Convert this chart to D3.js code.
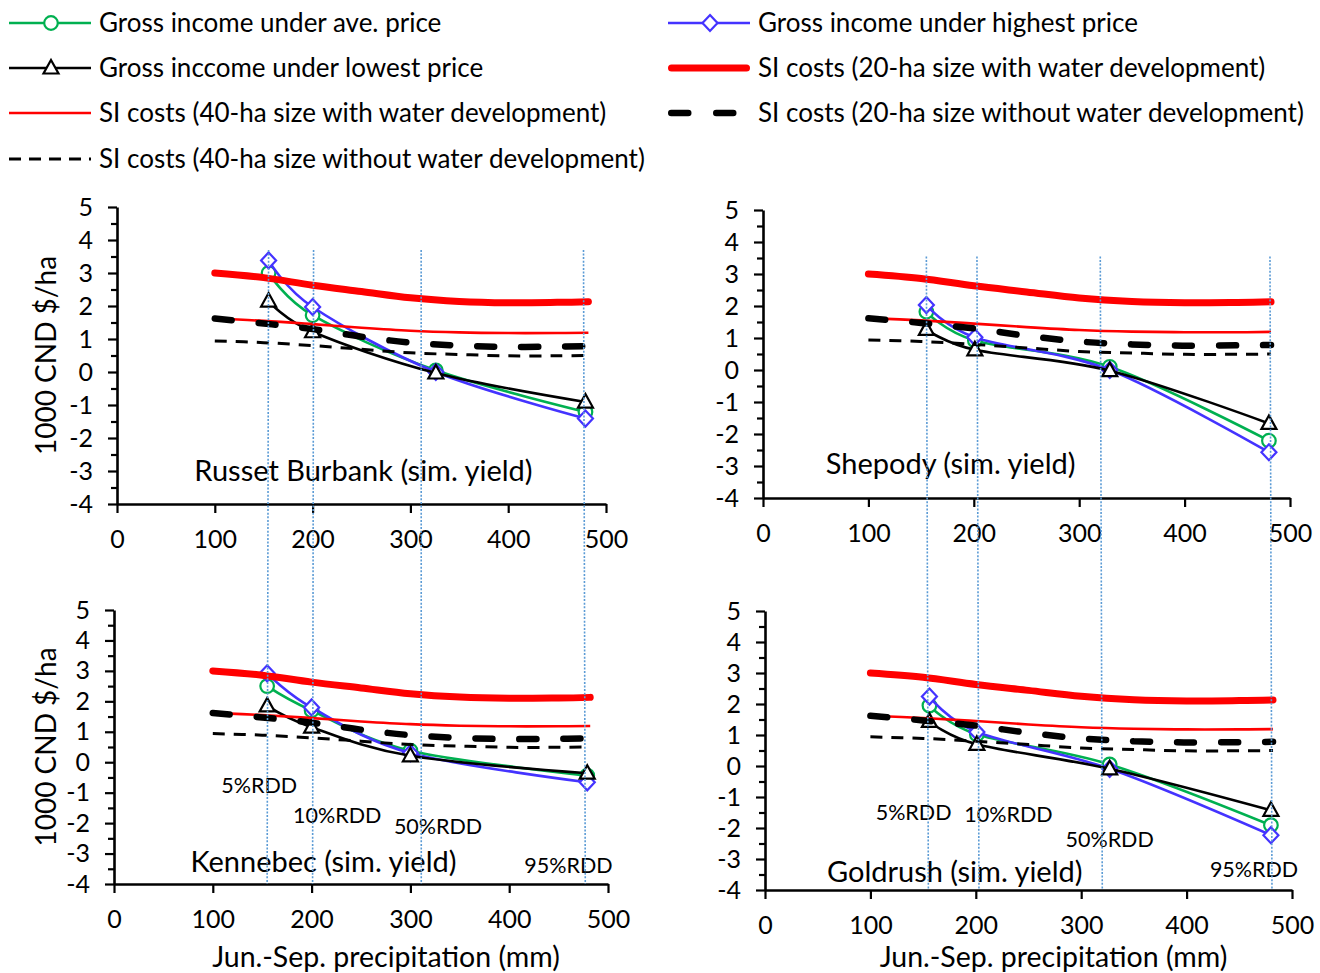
<!DOCTYPE html>
<html><head><meta charset="utf-8">
<script src="https://cdn.jsdelivr.net/npm/d3@7"></script>
<style>body{margin:0;background:#fff}svg{display:block}text{font-family:Lato,"Open Sans",sans-serif;fill:#000}</style>
</head><body><svg id="c" width="1320" height="973"></svg>
<script>
// ---------- data ----------
const xTicks = [0, 100, 200, 300, 400, 500];
const yTicks = [-4, -3, -2, -1, 0, 1, 2, 3, 4, 5];
const yMinor = [-3.5, -2.5, -1.5, -0.5, 0.5, 1.5, 2.5, 3.5, 4.5];

// SI costs (same in each panel)
const costX = [100, 150, 200, 250, 300, 350, 400, 450, 482];
const cost20With    = [3.00, 2.86, 2.63, 2.44, 2.25, 2.14, 2.10, 2.11, 2.13];
const cost40With    = [1.62, 1.55, 1.45, 1.34, 1.25, 1.20, 1.18, 1.18, 1.19];
const cost20Without = [1.62, 1.47, 1.30, 1.07, 0.89, 0.80, 0.76, 0.77, 0.78];
const cost40Without = [0.94, 0.89, 0.80, 0.69, 0.58, 0.53, 0.49, 0.49, 0.50];

// Gross income per variety
const russetX    = [155, 200, 326, 479];
const russetAve  = [3.00, 1.72, 0.05, -1.21];
const russetHigh = [3.38, 1.97, 0.00, -1.41];
const russetLow  = [2.15, 1.22, -0.03, -0.91];

const shepodyX    = [155, 201, 329, 480];
const shepodyAve  = [1.82, 0.92, 0.10, -2.21];
const shepodyHigh = [2.03, 1.02, 0.00, -2.57];
const shepodyLow  = [1.27, 0.63, -0.02, -1.67];

const kennebecX    = [155, 200, 300, 479];
const kennebecAve  = [2.50, 1.70, 0.38, -0.44];
const kennebecHigh = [2.92, 1.80, 0.30, -0.66];
const kennebecLow  = [1.85, 1.15, 0.21, -0.36];

const goldrushX    = [156, 201, 327, 480];
const goldrushAve  = [1.95, 1.02, 0.05, -1.91];
const goldrushHigh = [2.24, 1.10, -0.09, -2.23];
const goldrushLow  = [1.44, 0.70, -0.09, -1.43];

// RDD reference precipitation lines
const rddLeft  = [155, 201, 311, 477];
const rddRight = [155, 203, 320, 481];
const rddLabels = ["5%RDD", "10%RDD", "50%RDD", "95%RDD"];

const titles = ["Russet Burbank (sim. yield)", "Shepody (sim. yield)", "Kennebec (sim. yield)", "Goldrush (sim. yield)"];
const yLabel = "1000 CND $/ha";
const xLabel = "Jun.-Sep. precipitation (mm)";

// ---------- styles ----------
const GREEN = "#00B050", BLUE = "#4433FF", RED = "#FF0000", DOT = "#5B9BD5";

const series = [
  {name: "Gross income under ave. price", color: GREEN, w: 2.6, marker: "circle"},
  {name: "Gross income under highest price", color: BLUE, w: 2.6, marker: "diamond"},
  {name: "Gross inccome under lowest price", color: "#000", w: 2.6, marker: "triangle"},
  {name: "SI costs (20-ha size with water development)", color: RED, w: 7, dash: null, cap: "round"},
  {name: "SI costs (40-ha size with water development)", color: RED, w: 2.6, dash: null},
  {name: "SI costs (20-ha size without water development)", color: "#000", w: 6.5, dash: "17,27", cap: "round"},
  {name: "SI costs (40-ha size without water development)", color: "#000", w: 3, dash: "12,9"}
];

const svg = d3.select("#c");

const panels = [
  {x: [117, 606], y: [207, 504], X: russetX, ave: russetAve, high: russetHigh, low: russetLow, title: titles[0], tPos: [252, -3.3], yl: true},
  {x: [763, 1290], y: [210, 498], X: shepodyX, ave: shepodyAve, high: shepodyHigh, low: shepodyLow, title: titles[1], tPos: [178, -3.25]},
  {x: [114, 608], y: [610, 884], X: kennebecX, ave: kennebecAve, high: kennebecHigh, low: kennebecLow, title: titles[2], tPos: [212, -3.62], yl: true, xl: true,
    rdd: [[147, -1.0], [226, -2.0], [328, -2.37], [460, -3.64]]},
  {x: [765, 1292], y: [611, 890], X: goldrushX, ave: goldrushAve, high: goldrushHigh, low: goldrushLow, title: titles[3], tPos: [180, -3.74], xl: true,
    rdd: [[141, -1.73], [231, -1.8], [327, -2.62], [464, -3.58]]}
];

function markerPath(type) {
  if (type === "circle") return d3.symbol().type(d3.symbolCircle).size(Math.PI * 6.8 * 6.8)();
  if (type === "diamond") return "M0,-8L7.5,0L0,8L-7.5,0Z";
  return "M0,-8L7.5,5.5L-7.5,5.5Z";
}

panels.forEach(p => {
  p.sx = d3.scaleLinear().domain([0, 500]).range(p.x);
  p.sy = d3.scaleLinear().domain([5, -4]).range(p.y);
});

function drawSeries(g, p, xs, ys, s) {
  const line = d3.line().x(d => p.sx(d[0])).y(d => p.sy(d[1])).curve(d3.curveCardinal.tension(0));
  const pts = xs.map((x, i) => [x, ys[i]]);
  g.append("path").attr("d", line(pts)).attr("fill", "none").attr("stroke", s.color)
    .attr("stroke-width", s.w).attr("stroke-dasharray", s.dash || null)
    .attr("stroke-linecap", s.cap || "butt").attr("stroke-linejoin", "round");
  if (s.marker) {
    g.selectAll(null).data(pts).enter().append("path")
      .attr("d", markerPath(s.marker))
      .attr("transform", d => `translate(${p.sx(d[0])},${p.sy(d[1])})`)
      .attr("fill", "#fff").attr("stroke", s.color).attr("stroke-width", 2.2);
  }
}

const fmt = d => String(d);

panels.forEach((p, pi) => {
  const g = svg.append("g");
  // axes
  const yAxis = d3.axisLeft(p.sy).tickValues(yTicks).tickSize(9).tickSizeOuter(0).tickPadding(15).tickFormat(fmt);
  const ya = g.append("g").attr("transform", `translate(${p.x[0]},0)`).call(yAxis);
  ya.selectAll(".tick line").attr("stroke-width", 2.2);
  ya.select(".domain").attr("stroke-width", 2.6);
  ya.selectAll("text").attr("font-size", 25).attr("font-family", "Lato");
  g.append("g").attr("transform", `translate(${p.x[0]},0)`)
    .call(d3.axisLeft(p.sy).tickValues(yMinor).tickSize(6).tickFormat(""))
    .call(a => a.select(".domain").remove())
    .selectAll(".tick line").attr("stroke-width", 2.2);

  const xAxis = d3.axisBottom(p.sx).tickValues(xTicks).tickSize(9).tickSizeOuter(0).tickPadding(17).tickFormat(fmt);
  const xa = g.append("g").attr("transform", `translate(0,${p.y[1]})`).call(xAxis);
  xa.selectAll(".tick line").attr("stroke-width", 2.2);
  xa.select(".domain").attr("stroke-width", 2.6);
  xa.selectAll("text").attr("font-size", 25).attr("font-family", "Lato");

  // income series
  drawSeries(g, p, p.X, p.ave, series[0]);
  drawSeries(g, p, p.X, p.high, series[1]);
  drawSeries(g, p, p.X, p.low, series[2]);
  // costs
  drawSeries(g, p, costX, cost40Without, series[6]);
  drawSeries(g, p, costX, cost40With, series[4]);
  drawSeries(g, p, costX, cost20Without, series[5]);
  drawSeries(g, p, costX, cost20With, series[3]);

  g.append("text").attr("x", p.sx(p.tPos[0])).attr("y", p.sy(p.tPos[1]))
    .attr("text-anchor", "middle").attr("font-size", 29).text(p.title);

  if (p.yl) {
    const cy = (p.y[0] + p.y[1]) / 2;
    g.append("text").attr("transform", `translate(56,${cy}) rotate(-90)`)
      .attr("text-anchor", "middle").attr("font-size", 28).text(yLabel);
  }
  if (p.xl) {
    g.append("text").attr("x", (p.x[0] + p.x[1]) / 2 + 25).attr("y", 967)
      .attr("text-anchor", "middle").attr("font-size", 28.5).text(xLabel);
  }
  if (p.rdd) {
    p.rdd.forEach((r, i) => {
      g.append("text").attr("x", p.sx(r[0])).attr("y", p.sy(r[1]))
        .attr("text-anchor", "middle").attr("font-size", 21.5).text(rddLabels[i]);
    });
  }
});

// dotted RDD lines spanning top and bottom panels
[[panels[0], panels[2], rddLeft, 3.7], [panels[1], panels[3], rddRight, 3.55]].forEach(([top, bot, vals, topV]) => {
  vals.forEach(v => {
    svg.append("line")
      .attr("x1", top.sx(v)).attr("y1", top.sy(topV))
      .attr("x2", bot.sx(v)).attr("y2", bot.sy(-4))
      .attr("stroke", DOT).attr("stroke-width", 1.6).attr("stroke-dasharray", "2,1.6");
  });
});

// legend
const legendItems = [
  [series[0], 0, 0], [series[1], 1, 0],
  [series[2], 0, 1], [series[3], 1, 1],
  [series[4], 0, 2], [series[5], 1, 2],
  [series[6], 0, 3]
];
const colX = [[9, 91, 99], [668, 750, 758]];
const rowY = [23, 68, 113, 159];
legendItems.forEach(([s, c, r]) => {
  const [x1, x2, tx] = colX[c], y = rowY[r];
  const lg = svg.append("g");
  lg.append("line").attr("x1", s.cap === "round" ? x1 + s.w / 2 : x1).attr("x2", s.cap === "round" ? x2 - s.w / 2 : x2)
    .attr("y1", y).attr("y2", y).attr("stroke", s.color).attr("stroke-width", s.w)
    .attr("stroke-dasharray", s.dash ? (s.w > 4 ? "17,28" : "12,8") : null)
    .attr("stroke-linecap", s.cap || "butt");
  if (s.marker) {
    lg.append("path").attr("d", markerPath(s.marker)).attr("transform", `translate(${(x1 + x2) / 2 + 1},${y})`)
      .attr("fill", "#fff").attr("stroke", s.color).attr("stroke-width", 2.2);
  }
  lg.append("text").attr("x", tx).attr("y", y + 9).attr("font-size", 26).text(s.name);
});
</script></body></html>
